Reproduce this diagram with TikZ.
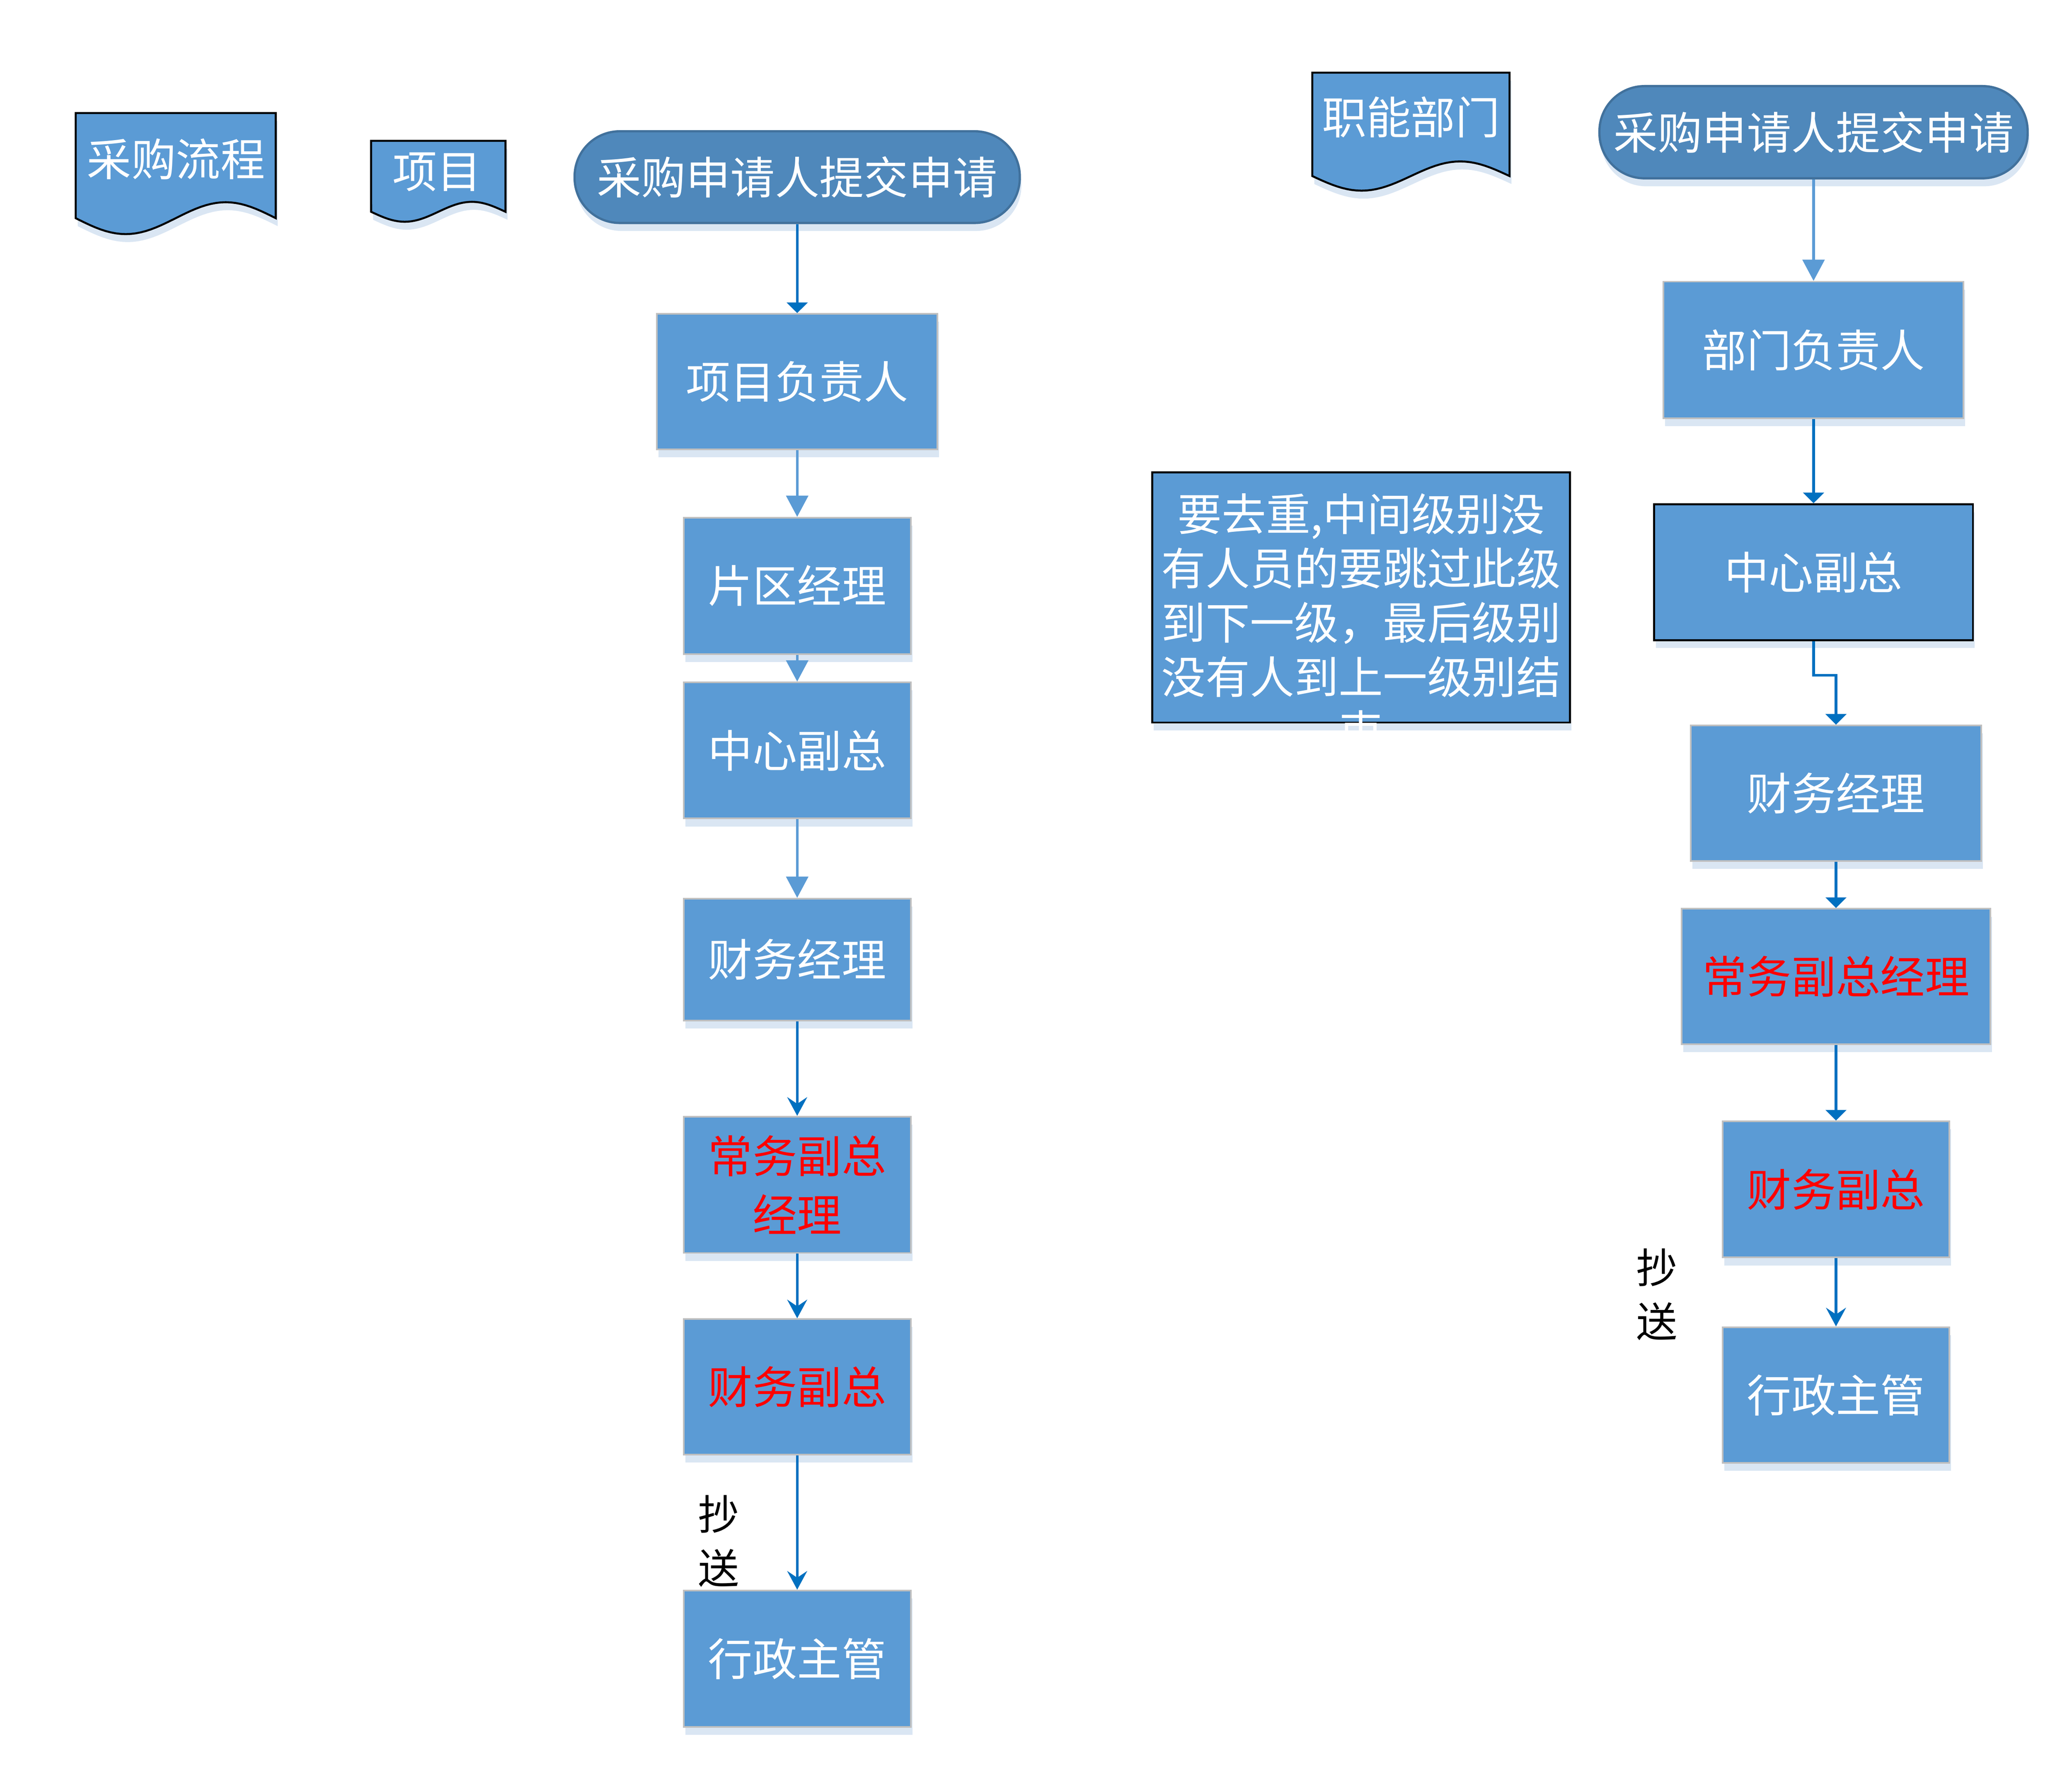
\documentclass[tikz,border=0pt]{standalone}
\usepackage{fontspec}
\setmainfont{Noto Sans CJK SC}
\usetikzlibrary{arrows.meta,shadows}
\definecolor{boxblue}{HTML}{5B9BD5}
\definecolor{termblue}{HTML}{4F88BB}
\definecolor{termedge}{HTML}{41719C}
\definecolor{boxgray}{HTML}{BFBFBF}
\definecolor{shadowblue}{HTML}{DAE6F3}
\definecolor{darkarrow}{HTML}{0070C0}
\definecolor{lightarrow}{HTML}{5B9BD5}
\definecolor{redtext}{HTML}{FF0000}
\newcommand\mydocpath[5]{(#1,#3) -- (#2,#3) -- (#2,#4) -- plot[domain=1:0,samples=41] ({#1+(#2-#1)*\x},{#4+#5*sin(360*\x)}) -- cycle}
\begin{document}
\begin{tikzpicture}[x=1pt,y=-1pt,
  boxfont/.style={font={\fontsize{33.5}{41}\selectfont}},
  myshadow/.style={drop shadow={shadow xshift=1.2pt,shadow yshift=-6pt,fill=shadowblue,opacity=1}},
  flowbox/.style={draw=boxgray,line width=1.2pt,fill=boxblue,text=white,boxfont,inner sep=0pt,myshadow},
  termbox/.style={draw=termedge,line width=1.7pt,fill=termblue,rounded corners=34pt,text=white,boxfont,inner sep=0pt,myshadow},
  notebox/.style={draw=black,line width=1.5pt,fill=boxblue,inner sep=0pt,myshadow},
  notetext/.style={text=white,font={\fontsize{33.4}{40.8}\selectfont},align=center,inner sep=0pt},
  doctext/.style={text=white,boxfont,inner sep=0pt},
  docshape/.style={fill=boxblue,draw=black,line width=1.5pt},
  cclabel/.style={text=black,font={\fontsize{31}{40.5}\selectfont},align=center,inner sep=0pt},
  arrA/.style={draw=lightarrow,line width=2pt,-{Triangle[length=16pt,width=16.5pt]}},
  arrB/.style={draw=darkarrow,line width=2pt,-{Triangle[length=8pt,width=15.5pt]}},
  arrC/.style={draw=darkarrow,line width=2pt,-{Stealth[length=14pt,width=15pt,inset=5pt]}}
]
\fill[white] (0,0) rectangle (1560,1339.5);
\useasboundingbox (0,0) rectangle (1560,1339.5);

% document shapes
\fill[shadowblue,shift={(1.5,6)}] \mydocpath{57}{207.6}{85.1}{164.2}{12};
\filldraw[docshape] \mydocpath{57}{207.6}{85.1}{164.2}{12};
\node[doctext] (d1) at (132.5,119.6) {采购流程};

\fill[shadowblue,shift={(1.5,6)}] \mydocpath{279.4}{380.6}{106}{159.4}{7.5};
\filldraw[docshape] \mydocpath{279.4}{380.6}{106}{159.4}{7.5};
\node[doctext] (d2) at (329,129.5) {项目};

\fill[shadowblue,shift={(1.5,6)}] \mydocpath{988}{1136.5}{54.7}{132.5}{11};
\filldraw[docshape] \mydocpath{988}{1136.5}{54.7}{132.5}{11};
\node[doctext] (d3) at (1062.3,88) {职能部门};

% left column
\node[termbox,minimum width=335.2pt,minimum height=69pt] (lt) at (600.2,133.3) {采购申请人提交申请};
\node[flowbox,minimum width=211.3pt,minimum height=101.9pt] (l1) at (600.2,287.2) {项目负责人};
\node[flowbox,minimum width=171pt,minimum height=102.6pt] (l2) at (600.2,440.9) {片区经理};
\node[flowbox,minimum width=171pt,minimum height=102.4pt] (l3) at (600.2,564.8) {中心副总};
\node[flowbox,minimum width=171pt,minimum height=91.7pt] (l4) at (600.2,722.2) {财务经理};
\node[flowbox,minimum width=171pt,minimum height=102.6pt,text=redtext,align=center,font={\fontsize{33.5}{44.5}\selectfont}] (l5) at (600.2,891.7) {常务副总\\经理};
\node[flowbox,minimum width=171pt,minimum height=102pt,text=redtext] (l6) at (600.2,1043.8) {财务副总};
\node[flowbox,minimum width=171pt,minimum height=102.7pt] (l7) at (600.2,1248.4) {行政主管};
\node[cclabel] (lcc) at (541,1160) {抄\\送};

% note
\node[notebox,minimum width=314.6pt,minimum height=188.4pt] (nb) at (1024.7,449.6) {};
\node[notetext] (nbt) at (1024.7,468.5) {要去重,中间级别没\\有人员的要跳过此级\\到下一级，最后级别\\没有人到上一级别结\\束};

% right column
\node[termbox,minimum width=322.4pt,minimum height=69.4pt] (rt) at (1365.4,99.5) {采购申请人提交申请};
\node[flowbox,minimum width=225.9pt,minimum height=102.7pt] (r1) at (1365.4,263.35) {部门负责人};
\node[flowbox,draw=black,line width=1.5pt,minimum width=240pt,minimum height=102.3pt] (r2) at (1365.4,430.65) {中心副总};
\node[flowbox,minimum width=218.6pt,minimum height=102pt] (r3) at (1382.3,597) {财务经理};
\node[flowbox,minimum width=232.6pt,minimum height=101.8pt,text=redtext] (r4) at (1382.3,734.9) {常务副总经理};
\node[flowbox,minimum width=170.6pt,minimum height=102.4pt,text=redtext] (r5) at (1382.3,895.2) {财务副总};
\node[flowbox,minimum width=170.6pt,minimum height=102.1pt] (r6) at (1382.3,1049.95) {行政主管};
\node[cclabel] (rcc) at (1247.3,974.2) {抄\\送};

% connectors
\draw[arrB] (lt.south) -- (l1.north);
\draw[arrA] (l1.south) -- (l2.north);
\draw[arrA] (l2.south) -- (l3.north);
\draw[arrA] (l3.south) -- (l4.north);
\draw[arrC] (l4.south) -- (l5.north);
\draw[arrC] (l5.south) -- (l6.north);
\draw[arrC] (l6.south) -- (l7.north);
\draw[arrA] (rt.south) -- (r1.north);
\draw[arrB] (r1.south) -- (r2.north);
\draw[arrB] (r2.south) -- ++(0,25.7) -| (r3.north);
\draw[arrB] (r3.south) -- (r4.north);
\draw[arrB] (r4.south) -- (r5.north);
\draw[arrC] (r5.south) -- (r6.north);
\end{tikzpicture}
\end{document}
